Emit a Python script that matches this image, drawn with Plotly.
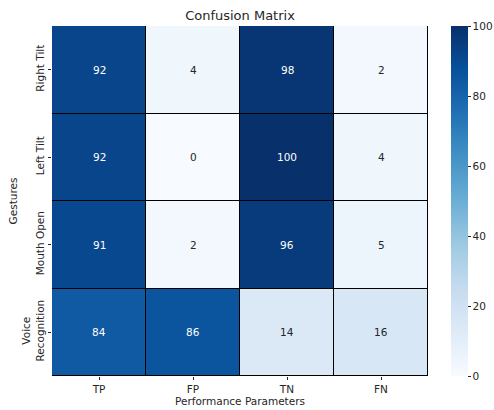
import plotly.graph_objects as go

params = ["TP", "FP", "TN", "FN"]
gestures = ["Right Tilt", "Left Tilt", "Mouth Open", "Voice<br>Recognition"]
right_tilt = [92, 4, 98, 2]
left_tilt = [92, 0, 100, 4]
mouth_open = [91, 2, 96, 5]
voice_recognition = [84, 86, 14, 16]
z = [right_tilt, left_tilt, mouth_open, voice_recognition]

blues = ["#f7fbff", "#deebf7", "#c6dbef", "#9ecae1", "#6baed6",
         "#4292c6", "#2171b5", "#08519c", "#08306b"]
colorscale = [[i / (len(blues) - 1), c] for i, c in enumerate(blues)]

FONT = "DejaVu Sans"

fig = go.Figure(go.Heatmap(
    z=z, x=params, y=gestures, colorscale=colorscale, zmin=0, zmax=100,
    xgap=1, ygap=1,
    colorbar=dict(
        x=1.061, xanchor="left", xpad=0, y=0.5, yanchor="middle", ypad=0,
        len=1, lenmode="fraction", thickness=17, outlinewidth=0,
        tickmode="array", tickvals=[0, 20, 40, 60, 80, 100],
        ticks="outside", ticklen=3, tickcolor="#262626",
        tickfont=dict(family=FONT, size=10.5, color="#262626"),
    ),
    hoverinfo="skip",
))

annotations = []
for gi, g in enumerate(gestures):
    for pi, p in enumerate(params):
        v = z[gi][pi]
        annotations.append(dict(
            x=p, y=g, xref="x", yref="y", text=str(v), showarrow=False,
            font=dict(family=FONT, size=10.5,
                      color="white" if v > 50 else "#262626"),
        ))

fig.update_layout(
    width=494, height=410,
    margin=dict(l=52, r=66, t=26, b=34, autoexpand=False),
    paper_bgcolor="white", plot_bgcolor="black",
    title=dict(text="Confusion Matrix", x=0.5, xref="paper", xanchor="center",
               y=1, yref="paper", yanchor="bottom", pad=dict(b=6),
               font=dict(family=FONT, size=13, color="#262626")),
    annotations=annotations,
    font=dict(family=FONT, size=10.5, color="#262626"),
)
fig.update_xaxes(
    automargin=False,
    showgrid=False, zeroline=False, ticks="outside", ticklen=3,
    tickcolor="#262626", tickfont=dict(family=FONT, size=10.5, color="#262626"),
    title=dict(text="Performance Parameters", standoff=4,
               font=dict(family=FONT, size=10.5, color="#262626")),
)
fig.update_yaxes(
    automargin=False,
    autorange="reversed", showgrid=False, zeroline=False, ticks="outside",
    ticklen=3, tickcolor="#262626", tickangle=-90,
    tickfont=dict(family=FONT, size=10.5, color="#262626"),
    title=dict(text="Gestures", standoff=0,
               font=dict(family=FONT, size=10.5, color="#262626")),
)

fig.write_html("out.html", config={"displayModeBar": False},
               post_script="document.body.style.margin='0px';")
